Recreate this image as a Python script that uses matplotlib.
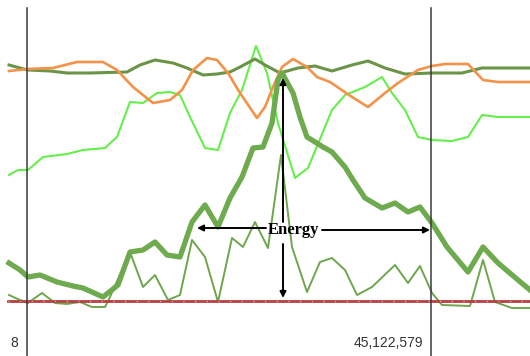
import matplotlib
matplotlib.use("Agg")
import matplotlib.pyplot as plt

# ---- data (position along track, signal level; level axis runs top->bottom) ----
olive_x = [9, 20, 28, 50, 67, 90, 127, 140, 155, 173, 187, 203, 217, 230, 240, 255, 265, 280, 298, 315,
           332, 352, 368, 385, 405, 432, 462, 482, 530]
olive_y = [65, 68, 70, 71, 73, 73, 72, 65, 60, 63, 68, 75, 74, 72, 67, 59, 65, 73, 68, 66,
           71, 65, 61, 68, 74, 73, 73, 68, 68]

orange_x = [9, 28, 53, 77, 103, 117, 133, 153, 170, 182, 193, 207, 217, 228, 240, 257, 265, 273, 282, 293,
            307, 317, 330, 352, 368, 385, 398, 418, 432, 445, 468, 483, 498, 530]
orange_y = [71, 69, 68, 62, 62, 70, 87, 103, 100, 90, 70, 58, 60, 73, 93, 118, 107, 87, 67, 59,
            67, 77, 82, 97, 107, 93, 83, 70, 66, 64, 64, 80, 82, 82]

light_x = [9, 18, 28, 43, 67, 83, 105, 117, 130, 143, 157, 170, 180, 190, 205, 218, 230, 242, 256, 267,
           278, 295, 308, 332, 345, 365, 382, 392, 405, 418, 432, 452, 468, 482, 498, 530]
light_y = [175, 170, 170, 157, 154, 150, 148, 137, 102, 103, 93, 92, 95, 117, 148, 150, 113, 90, 46, 73,
           123, 178, 168, 110, 95, 87, 77, 93, 110, 137, 140, 141, 137, 115, 117, 117]

thick_x = [9, 20, 28, 40, 57, 73, 83, 103, 118, 130, 143, 155, 167, 180, 192, 205, 218, 230, 242, 253,
           263, 272, 278, 282, 293, 300, 307, 323, 332, 345, 353, 365, 382, 395, 408, 420, 432, 447, 468,
           483, 498, 518, 530]
thick_y = [263, 270, 277, 275, 282, 286, 288, 297, 285, 252, 250, 242, 255, 257, 222, 205, 227, 198, 177, 148,
           147, 123, 80, 73, 93, 117, 137, 147, 152, 167, 180, 198, 208, 203, 212, 207, 223, 247, 272,
           247, 263, 280, 290]

thin_x = [9, 20, 28, 42, 55, 67, 80, 92, 105, 110, 130, 143, 155, 168, 180, 192, 205, 218, 232, 243,
          255, 268, 281, 292, 307, 320, 332, 345, 357, 372, 395, 408, 420, 432, 442, 470, 483, 495, 512, 530]
thin_y = [295, 300, 303, 293, 303, 304, 302, 307, 307, 297, 252, 287, 275, 300, 295, 240, 257, 302, 238, 247,
          222, 248, 155, 247, 292, 262, 258, 270, 295, 287, 265, 283, 266, 293, 305, 306, 260, 302, 308, 308]

baseline_level = 300.5
marker_positions = [27, 431]
marker_labels = ["8", "45,122,579"]

# ---- figure ----
fig = plt.figure(figsize=(5.30, 3.56), dpi=100)
ax = fig.add_axes([0, 0, 1, 1])
ax.set_xlim(0, 530)
ax.set_ylim(356, 0)
ax.axis("off")

ax.plot(light_x, light_y, color="#66ee4c", lw=1.5, zorder=2)
ax.plot(olive_x, olive_y, color="#6b9447", lw=2.2, zorder=3)
ax.plot(orange_x, orange_y, color="#f5924a", lw=1.9, zorder=3)
ax.plot(thick_x, thick_y, color="#6eaa4e", lw=3.8, zorder=4, solid_joinstyle="round")
ax.plot(thin_x, thin_y, color="#6ea64e", lw=1.4, zorder=4)

ax.axhline(baseline_level, xmin=8 / 530, xmax=1, color="#b44040", lw=2.0, zorder=5)
ax.axhline(baseline_level, xmin=8 / 530, xmax=1, color="white", lw=0.7,
           dashes=(1.0, 11.0), zorder=6, alpha=0.8)

for xp in marker_positions:
    ax.plot([xp, xp], [8, 356], color="#3a3a3a", lw=1.1, zorder=7)

ax.text(14, 343, marker_labels[0], ha="center", va="center", fontsize=10,
        family="Liberation Sans", color="#333333")
ax.text(388, 343, marker_labels[1], ha="center", va="center", fontsize=10,
        family="Liberation Sans", color="#333333")

# ---- annotation ----
ax.text(294, 230, "Energy", ha="center", va="center", fontsize=12, fontweight="bold",
        family="Liberation Serif", color="black", zorder=9)
arrow_kw = dict(arrowstyle="-|>", color="black", lw=1.4, mutation_scale=9, shrinkA=0, shrinkB=0)
ax.annotate("", xy=(197, 228), xytext=(266, 228), arrowprops=arrow_kw, zorder=9)
ax.annotate("", xy=(430, 230), xytext=(322, 230), arrowprops=arrow_kw, zorder=9)
ax.annotate("", xy=(283, 78), xytext=(283, 222), arrowprops=arrow_kw, zorder=9)
ax.annotate("", xy=(283, 298), xytext=(283, 244), arrowprops=arrow_kw, zorder=9)

fig.savefig("out.png", dpi=100, facecolor="white")
